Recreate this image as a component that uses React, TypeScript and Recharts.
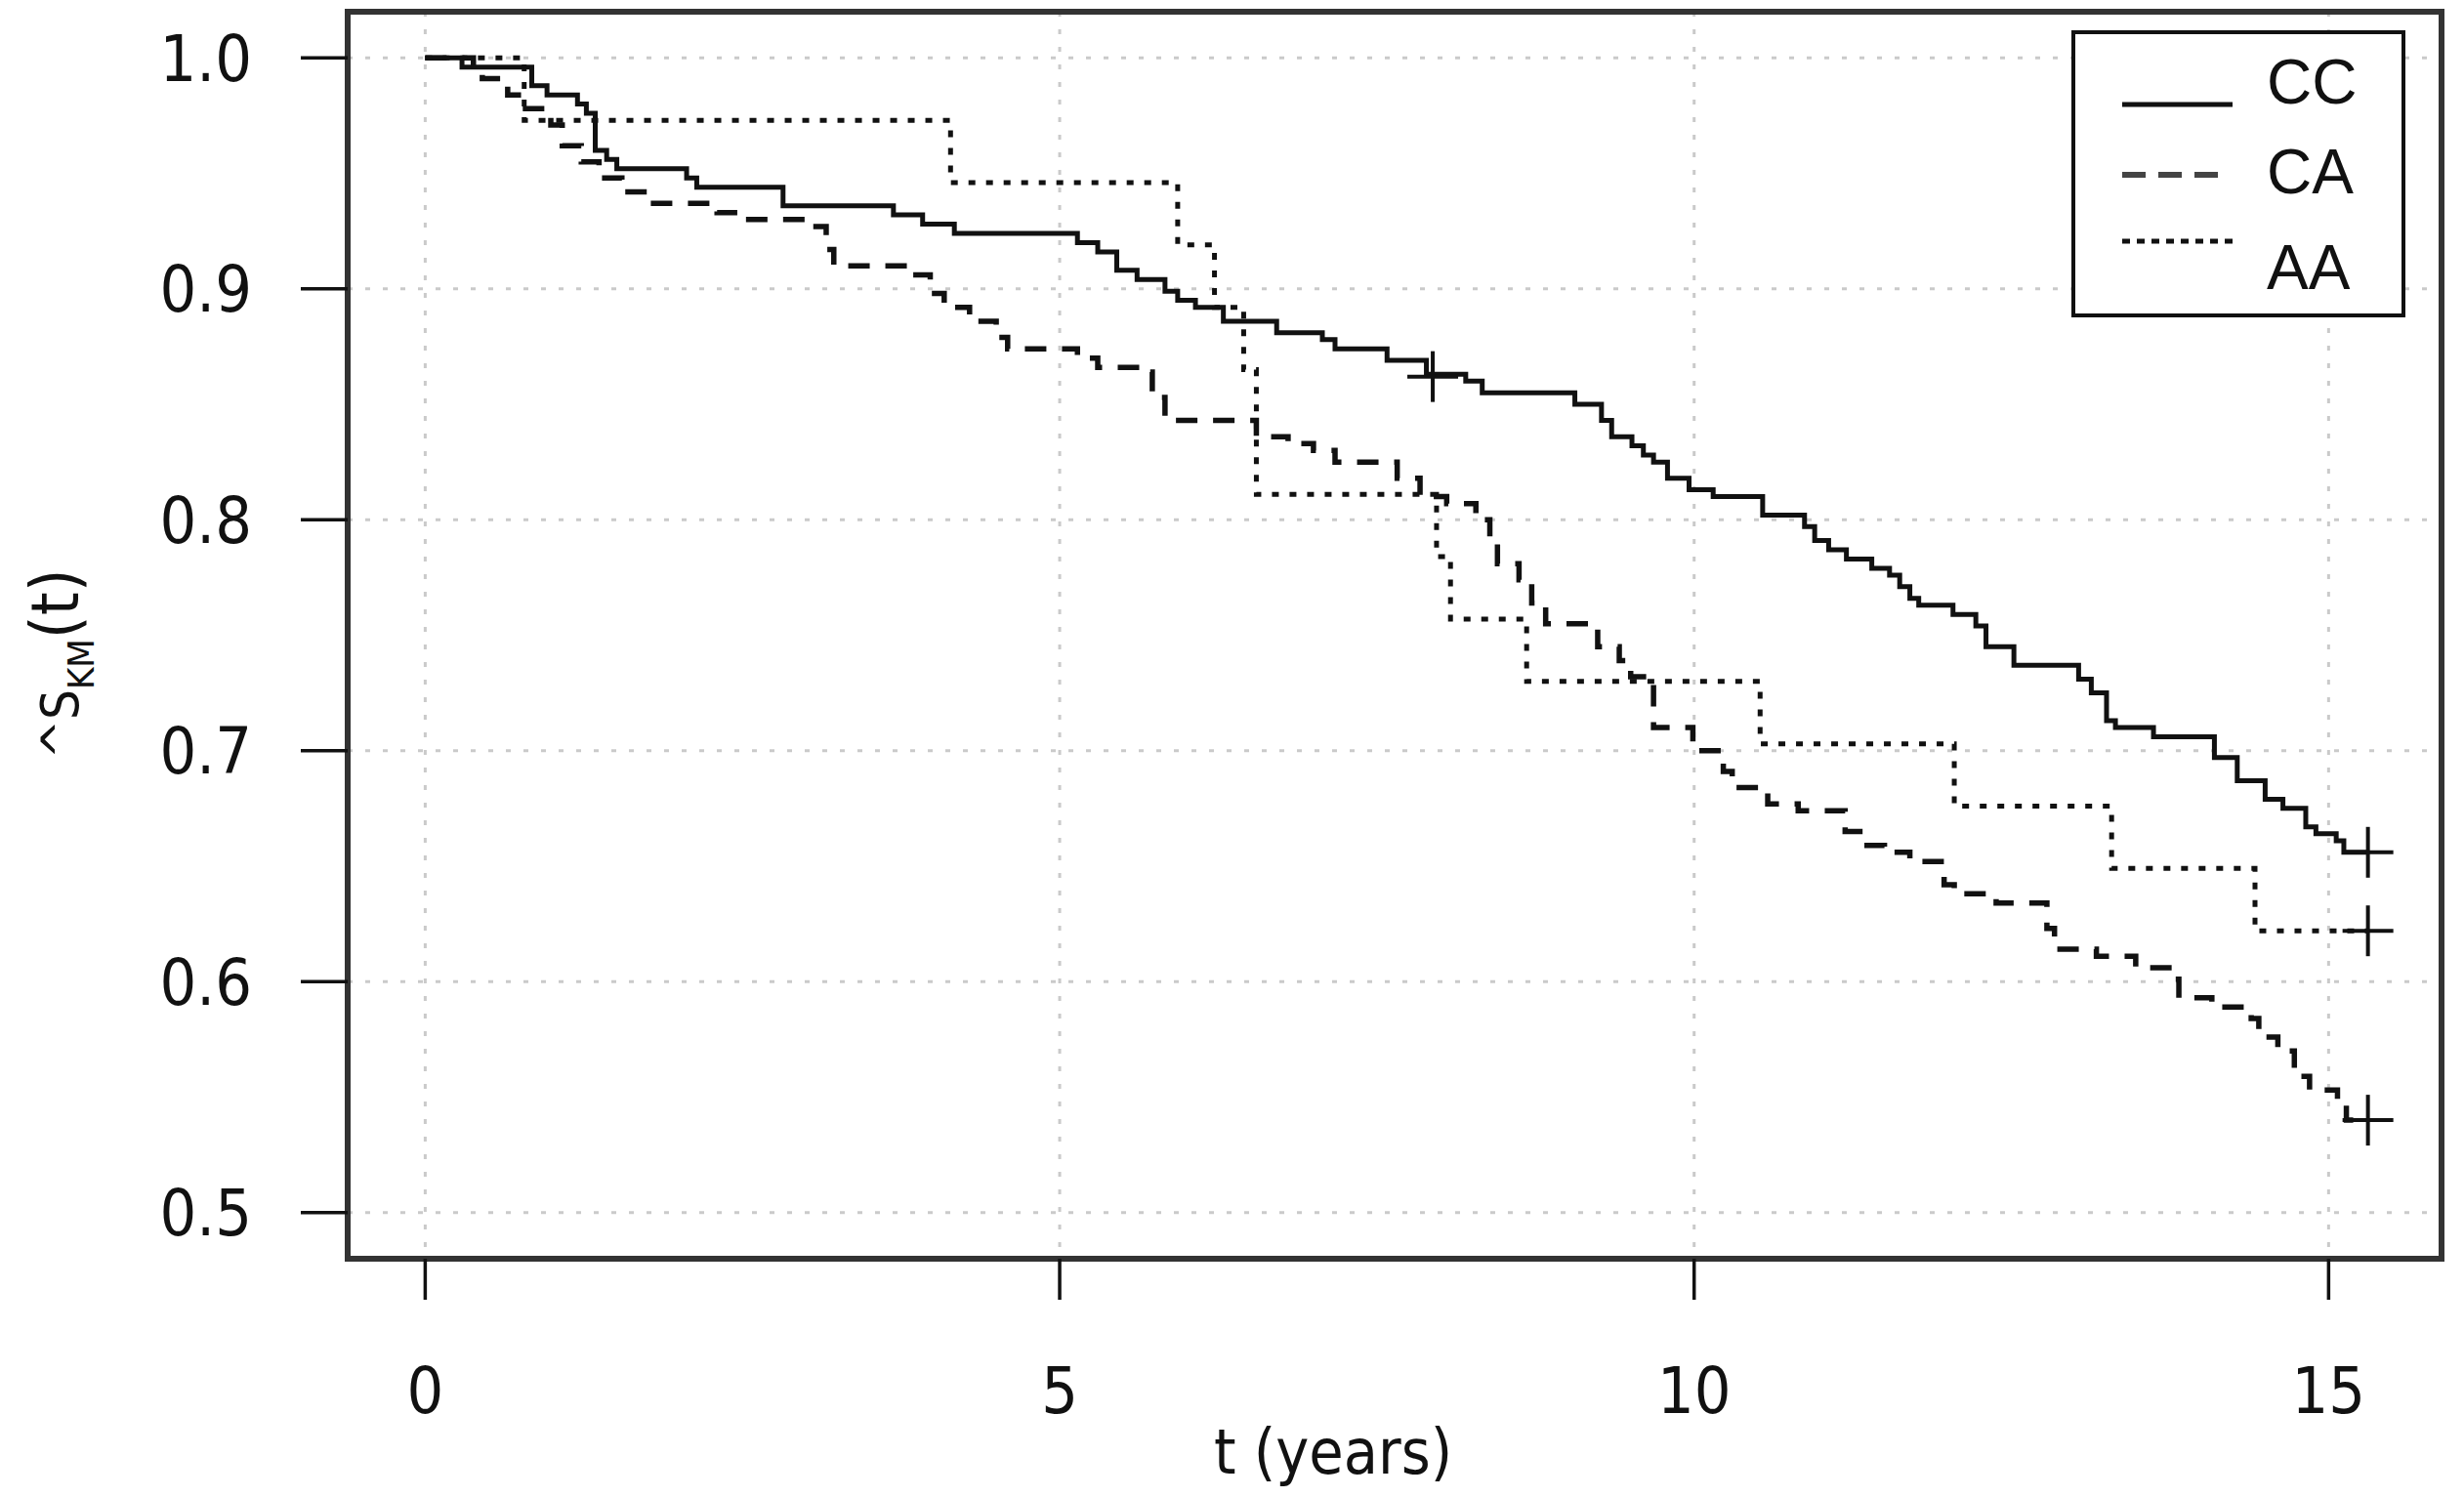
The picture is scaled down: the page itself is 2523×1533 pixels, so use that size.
import {
  CartesianGrid,
  ComposedChart,
  Legend,
  Line,
  ReferenceArea,
  Scatter,
  XAxis,
  YAxis
} from 'recharts';

// axis ticks
const xTicks = [0, 5, 10, 15];
const yTicks = [0.5, 0.6, 0.7, 0.8, 0.9, 1.0];

// Kaplan-Meier steps (time in years, survival after the step)
const ccTime = [
  0, 0.29, 0.84, 0.96, 1.2, 1.27, 1.34, 1.43, 1.51, 2.06, 2.14, 2.82, 3.69, 3.92, 4.17, 5.14, 5.3, 5.45,
  5.61, 5.83, 5.93, 6.07, 6.29, 6.71, 7.07, 7.17, 7.58, 7.89, 8.2, 8.33, 9.06, 9.27, 9.35, 9.51, 9.6,
  9.68, 9.79, 9.96, 10.15, 10.54, 10.87, 10.95, 11.06, 11.2, 11.4, 11.54, 11.62, 11.7, 11.77, 12.04,
  12.22, 12.3, 12.52, 13.03, 13.13, 13.25, 13.32, 13.62, 14.1, 14.28, 14.5, 14.64, 14.82, 14.9, 15.06,
  15.12, 15.31
];
const ccSurv = [
  1.0, 0.996, 0.988, 0.984, 0.98, 0.976, 0.96, 0.956, 0.952, 0.948, 0.944, 0.936, 0.932, 0.928, 0.924,
  0.92, 0.916, 0.908, 0.904, 0.899, 0.895, 0.892, 0.886, 0.881, 0.878, 0.874, 0.869, 0.863, 0.86, 0.855,
  0.85, 0.843, 0.836, 0.832, 0.828, 0.825, 0.818, 0.813, 0.81, 0.802, 0.797, 0.791, 0.787, 0.783, 0.779,
  0.776, 0.771, 0.766, 0.763, 0.759, 0.754, 0.745, 0.737, 0.731, 0.725, 0.713, 0.71, 0.706, 0.697,
  0.687, 0.679, 0.675, 0.667, 0.664, 0.661, 0.656, 0.656
];

const caTime = [
  0, 0.38, 0.45, 0.65, 0.79, 0.99, 1.08, 1.23, 1.37, 1.55, 1.75, 2.3, 2.5, 3.05, 3.16, 3.22, 3.8, 3.98,
  4.09, 4.29, 4.5, 4.59, 5.14, 5.3, 5.66, 5.73, 5.83, 6.55, 6.8, 7.0, 7.17, 7.66, 7.84, 8.05, 8.28, 8.39,
  8.45, 8.62, 8.72, 8.83, 9.24, 9.41, 9.5, 9.68, 9.99, 10.23, 10.3, 10.58, 10.82, 11.19, 11.33, 11.5,
  11.7, 11.97, 12.05, 12.38, 12.78, 12.84, 13.17, 13.48, 13.78, 13.82, 14.08, 14.39, 14.45, 14.6, 14.73,
  14.85, 15.07, 15.14, 15.31
];
const caSurv = [
  1.0, 0.995, 0.991, 0.984, 0.978, 0.971, 0.962, 0.955, 0.948, 0.942, 0.937, 0.933, 0.93, 0.927, 0.917,
  0.91, 0.906, 0.898, 0.892, 0.886, 0.879, 0.874, 0.87, 0.866, 0.864, 0.853, 0.843, 0.836, 0.833, 0.83,
  0.825, 0.818, 0.81, 0.807, 0.8, 0.79, 0.781, 0.774, 0.764, 0.755, 0.745, 0.739, 0.732, 0.71, 0.7,
  0.691, 0.684, 0.677, 0.674, 0.665, 0.659, 0.656, 0.652, 0.642, 0.638, 0.634, 0.623, 0.614, 0.611,
  0.606, 0.601, 0.593, 0.589, 0.584, 0.576, 0.57, 0.559, 0.553, 0.547, 0.54, 0.54
];

const aaTime = [0, 0.78, 4.14, 5.93, 6.22, 6.45, 6.55, 7.97, 8.08, 8.68, 10.52, 12.05, 13.29, 14.42, 15.31];
const aaSurv = [1.0, 0.973, 0.946, 0.919, 0.892, 0.865, 0.811, 0.784, 0.757, 0.73, 0.703, 0.676, 0.649, 0.622, 0.622];

// censored observations (+)
const ccCensorTime = [7.94, 15.31];
const ccCensorSurv = [0.862, 0.656];
const caCensorTime = [15.31];
const caCensorSurv = [0.54];
const aaCensorTime = [15.31];
const aaCensorSurv = [0.622];

const toRows = (time: number[], surv: number[]) => time.map((t, i) => ({ t, s: surv[i] }));

const ccData = toRows(ccTime, ccSurv);
const caData = toRows(caTime, caSurv);
const aaData = toRows(aaTime, aaSurv);
const censored = [
  ...toRows(ccCensorTime, ccCensorSurv),
  ...toRows(caCensorTime, caCensorSurv),
  ...toRows(aaCensorTime, aaCensorSurv)
];

const FONT = "'DejaVu Sans Condensed', 'DejaVu Sans', sans-serif";
const LEGEND_FONT = "'Liberation Sans Narrow', 'Liberation Sans', Arial, sans-serif";
const INK = '#111';

function Plus(props: any) {
  const { cx, cy } = props;
  if (cx == null || cy == null) return null;
  return (
    <g stroke={INK} strokeWidth={4}>
      <line x1={cx - 26} y1={cy} x2={cx + 26} y2={cy} />
      <line x1={cx} y1={cy - 26} x2={cx} y2={cy + 26} />
    </g>
  );
}

function XTitle() {
  return (
    <text x={1365} y={1509} textAnchor="middle" fontFamily={FONT} fontStretch="condensed" fontSize={64} fill={INK}>
      t (years)
    </text>
  );
}

function YTitle() {
  return (
    <text
      x={80}
      y={680}
      transform="rotate(-90 80 680)"
      textAnchor="middle"
      fontFamily={FONT}
      fontStretch="condensed"
      fill={INK}
    >
      <tspan fontSize={54}>^S</tspan>
      <tspan fontSize={38} dy={16}>KM</tspan>
      <tspan fontSize={68} dy={-16}>(t)</tspan>
    </text>
  );
}

const legendItems = [
  { label: 'CC', y: 76, dash: undefined, x2: 165, color: INK, base: 75 },
  { label: 'CA', y: 148, dash: '24 13', x2: 152, color: '#444', base: 167 },
  { label: 'AA', y: 216, dash: '8 7', x2: 172, color: INK, base: 265 }
];

function KmLegend() {
  return (
    <svg width={342} height={294}>
      <rect x={2} y={2} width={338} height={290} fill="#fff" stroke={INK} strokeWidth={4} />
      {legendItems.map((item) => (
        <g key={item.label}>
          <line
            x1={52}
            y1={item.y}
            x2={item.x2}
            y2={item.y}
            stroke={item.color}
            strokeWidth={item.label === 'CA' ? 6 : 5}
            strokeDasharray={item.dash}
          />
          <text x={200} y={item.base} fontFamily={LEGEND_FONT} fontStretch="condensed" fontSize={64} fill={INK}>
            {item.label}
          </text>
        </g>
      ))}
    </svg>
  );
}

export default function App() {
  const tickStyle = { fill: INK, fontSize: 66, fontFamily: FONT, fontStretch: 'condensed' as const };
  return (
    <div style={{ position: 'absolute', left: 0, top: 0, background: '#fff' }}>
      <ComposedChart width={2523} height={1533} margin={{ top: 12, right: 23, bottom: 0, left: 0 }}>
        <CartesianGrid stroke="#cacaca" strokeWidth={3} strokeDasharray="5 13" />
        <XAxis
          type="number"
          dataKey="t"
          domain={[-0.611, 15.89]}
          ticks={xTicks}
          allowDataOverflow
          height={244}
          axisLine={false}
          tickSize={42}
          tickMargin={69}
          tickLine={{ stroke: INK, strokeWidth: 3.5 }}
          tick={tickStyle}
          label={<XTitle />}
        />
        <YAxis
          type="number"
          dataKey="s"
          domain={[0.48, 1.02]}
          ticks={yTicks}
          allowDataOverflow
          width={356}
          axisLine={false}
          tickSize={48}
          tickMargin={50}
          tickLine={{ stroke: INK, strokeWidth: 3.5 }}
          tick={tickStyle}
          tickFormatter={(v: number) => v.toFixed(1)}
          label={<YTitle />}
        />
        <ReferenceArea x1={-0.611} x2={15.89} y1={0.48} y2={1.02} fill="none" stroke="#333" strokeWidth={6} ifOverflow="visible" />
        <Line data={ccData} dataKey="s" type="stepAfter" stroke={INK} strokeWidth={5} dot={false} isAnimationActive={false} />
        <Line data={caData} dataKey="s" type="stepAfter" stroke={INK} strokeWidth={5.5} strokeDasharray="22 16" dot={false} isAnimationActive={false} />
        <Line data={aaData} dataKey="s" type="stepAfter" stroke={INK} strokeWidth={5} strokeDasharray="7 11" dot={false} isAnimationActive={false} />
        <Scatter data={censored} dataKey="s" shape={Plus} isAnimationActive={false} />
        <Legend
          layout="horizontal"
          verticalAlign="middle"
          align="center"
          content={() => <KmLegend />}
          wrapperStyle={{ left: 2121, top: 31, width: 342, height: 294, right: 'auto', bottom: 'auto' }}
        />
      </ComposedChart>
    </div>
  );
}
